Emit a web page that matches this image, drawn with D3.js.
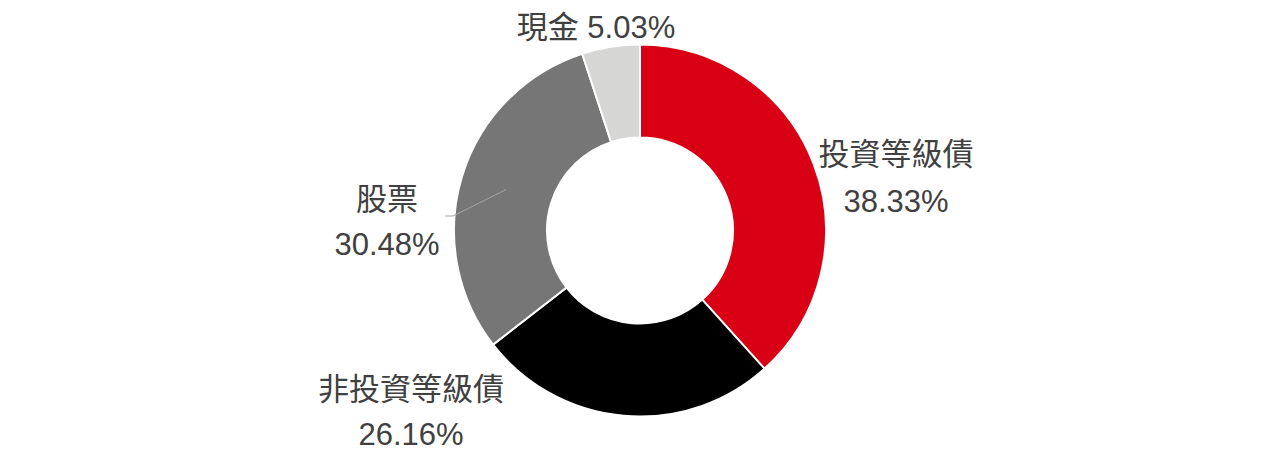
<!DOCTYPE html>
<html>
<head>
<meta charset="utf-8">
<script src="https://cdn.jsdelivr.net/npm/d3@7"></script>
<style>
  body { margin: 0; background: #fff; }
  text { font-family: "Liberation Sans", Arial, "Noto Sans CJK TC", sans-serif; fill: #404040; }
</style>
</head>
<body>
<div id="chart"></div>
<script>
const categories = ["投資等級債", "非投資等級債", "股票", "現金"]
const values = [38.33, 26.16, 30.48, 5.03]
const colors = ["#d90016", "#000000", "#767676", "#d6d6d5"]

const WIDTH = 1280
const HEIGHT = 461
const CX = 640, CY = 230.5
const R_OUT = 186, R_IN = 93

// label placement relative to centre: [x, y of name line, y of value line, inline?]
const labelLayout = [
    {x: 256, y1: -66, y2: -19},
    {x: -229, y1: 169, y2: 214},
    {x: -253, y1: -21, y2: 24},
    {x: -44, y1: -193, inline: true}
]

const svg = d3.select("#chart")
    .append("svg")
        .attr("width", WIDTH)
        .attr("height", HEIGHT)
    .append("g")
        .attr("transform", `translate(${CX}, ${CY})`)

const pie = d3.pie().sort(null).value(d => d)
const arc = d3.arc().innerRadius(R_IN).outerRadius(R_OUT)
const arcs = pie(values)

svg.selectAll("path")
    .data(arcs)
    .enter().append("path")
        .attr("d", arc)
        .attr("fill", (d, i) => colors[i])
        .attr("stroke", "#fff")
        .attr("stroke-width", 2)

// leader line for the equity slice
const eq = arcs[2]
const mid = (eq.startAngle + eq.endAngle) / 2
const inner = d3.arc().innerRadius(140).outerRadius(140).centroid(eq)
svg.append("polyline")
    .attr("points", [[-195, -14.5], [-187, -14.5], inner].map(p => p.join(",")).join(" "))
    .attr("fill", "none")
    .attr("stroke", "#a6a6a6")
    .attr("stroke-width", 1)

labelLayout.forEach((l, i) => {
    const pct = values[i].toFixed(2) + "%"
    if (l.inline) {
        svg.append("text")
            .attr("x", l.x)
            .attr("y", l.y1)
            .attr("text-anchor", "middle")
            .style("font-size", "31px")
            .text(categories[i] + " " + pct)
    } else {
        svg.append("text")
            .attr("x", l.x)
            .attr("y", l.y1)
            .attr("text-anchor", "middle")
            .style("font-size", "31px")
            .text(categories[i])
        svg.append("text")
            .attr("x", l.x)
            .attr("y", l.y2)
            .attr("text-anchor", "middle")
            .style("font-size", "31px")
            .text(pct)
    }
})
</script>
</body>
</html>
